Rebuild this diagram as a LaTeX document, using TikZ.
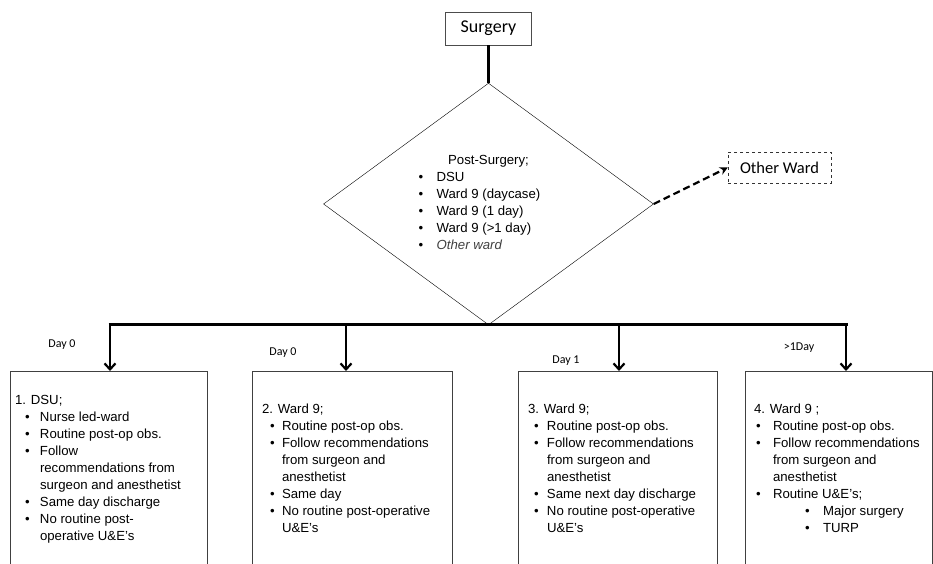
\documentclass[tikz,border=0pt]{standalone}
\usepackage{fontspec}
\setmainfont{Liberation Sans}
\newfontfamily\calib{Carlito}
\usetikzlibrary{positioning,arrows.meta,shapes.geometric}
\newcommand{\itm}[2]{\hspace*{#1pt}\makebox[#2pt][l]{\textbullet}}
\newcommand{\cnt}[1]{\hspace*{#1pt}}

\begin{document}
\begin{tikzpicture}[x=1pt, y=1pt,
  top/.style={draw=black!70, font=\calib\fontsize{18}{20}\selectfont,
              minimum width=86pt, minimum height=33pt, inner sep=0pt},
  dia/.style={draw, diamond, minimum width=330pt, minimum height=240pt,
              inner sep=0pt, font=\fontsize{13.2}{17}\selectfont},
  side/.style={draw=black!80, dashed, font=\calib\fontsize{16.5}{18}\selectfont,
               minimum width=103pt, minimum height=31pt, inner sep=0pt},
  ward/.style={draw=black!75, minimum height=230pt, anchor=north, inner sep=0pt},
  txt/.style={align=left, inner sep=0pt, font=\fontsize{13.2}{17}\selectfont},
  day/.style={font=\calib\fontsize{12}{14}\selectfont, inner sep=0pt},
  bus/.style={line width=3pt},
  arr/.style={-{Straight Barb[length=6pt,width=11pt]}, line width=2.2pt},
  darr/.style={-{Stealth[length=8pt,width=8pt]}, line width=2.2pt,
               dash pattern=on 7pt off 4pt}]
\useasboundingbox (0,0) rectangle (933,563);
\clip (0,0) rectangle (933,563);
% decision part
\node[top] (surg) at (488.5,534.5) {Surgery};
\node[dia] (post) at (488.5,359) {\begin{tabular}{@{}l@{\hspace{18pt}}}
  \multicolumn{1}{@{}c@{}}{Post-Surgery;}\\
  \itm{0}{18}DSU\\
  \itm{0}{18}Ward 9 (daycase)\\
  \itm{0}{18}Ward 9 (1 day)\\
  \itm{0}{18}Ward 9 (>1 day)\\
  \itm{0}{18}{\color{black!75}\itshape Other ward}
  \end{tabular}};
\node[side] (oth) at (779.5,395.5) {Other Ward};
\draw[bus] (surg.south) -- (post.north);
\draw[darr] (post.east) -- (oth.west);
% branches
\coordinate (j1) at (110,239);
\coordinate (j2) at (346,239);
\coordinate (j3) at (619,239);
\coordinate (j4) at (846,239);
\draw[bus] ([xshift=-1.5pt]j1) -- ([xshift=2pt]j4);
\node[ward, minimum width=197pt] (b1) at (108.5,192) {};
\node[ward, minimum width=200pt] (b2) at (352,192) {};
\node[ward, minimum width=199pt] (b3) at (617.5,192) {};
\node[ward, minimum width=187pt] (b4) at (838.5,192) {};
\foreach \i in {1,...,4}
  \draw[arr] (j\i) -- (j\i |- b\i.north);
\node[day] (d1) at (62,218) {Day 0};
\node[day] (d2) at (283,210) {Day 0};
\node[day] (d3) at (566,202) {Day 1};
\node[day] (d4) at (799,215) {>1Day};
% ward texts
\node[txt, below right=24pt and 5pt of b1.north west] (t1) {1. DSU;\\
  \itm{10}{15}Nurse led-ward\\
  \itm{10}{15}Routine post-op obs.\\
  \itm{10}{15}Follow\\
  \cnt{25}recommendations from\\
  \cnt{25}surgeon and anesthetist\\
  \itm{10}{15}Same day discharge\\
  \itm{10}{15}No routine post-\\
  \cnt{25}operative U\&E’s};
\node[txt, below right=33pt and 10pt of b2.north west] (t2) {2. Ward 9;\\
  \itm{8}{12}Routine post-op obs.\\
  \itm{8}{12}Follow recommendations\\
  \cnt{20}from surgeon and\\
  \cnt{20}anesthetist\\
  \itm{8}{12}Same day\\
  \itm{8}{12}No routine post-operative\\
  \cnt{20}U\&E’s};
\node[txt, below right=33pt and 10pt of b3.north west] (t3) {3. Ward 9;\\
  \itm{6}{13}Routine post-op obs.\\
  \itm{6}{13}Follow recommendations\\
  \cnt{19}from surgeon and\\
  \cnt{19}anesthetist\\
  \itm{6}{13}Same next day discharge\\
  \itm{6}{13}No routine post-operative\\
  \cnt{19}U\&E’s};
\node[txt, below right=33pt and 9pt of b4.north west] (t4) {4. Ward 9 ;\\
  \itm{2}{17}Routine post-op obs.\\
  \itm{2}{17}Follow recommendations\\
  \cnt{19}from surgeon and\\
  \cnt{19}anesthetist\\
  \itm{2}{17}Routine U\&E’s;\\
  \itm{51}{18}Major surgery\\
  \itm{51}{18}TURP};
\end{tikzpicture}
\end{document}
